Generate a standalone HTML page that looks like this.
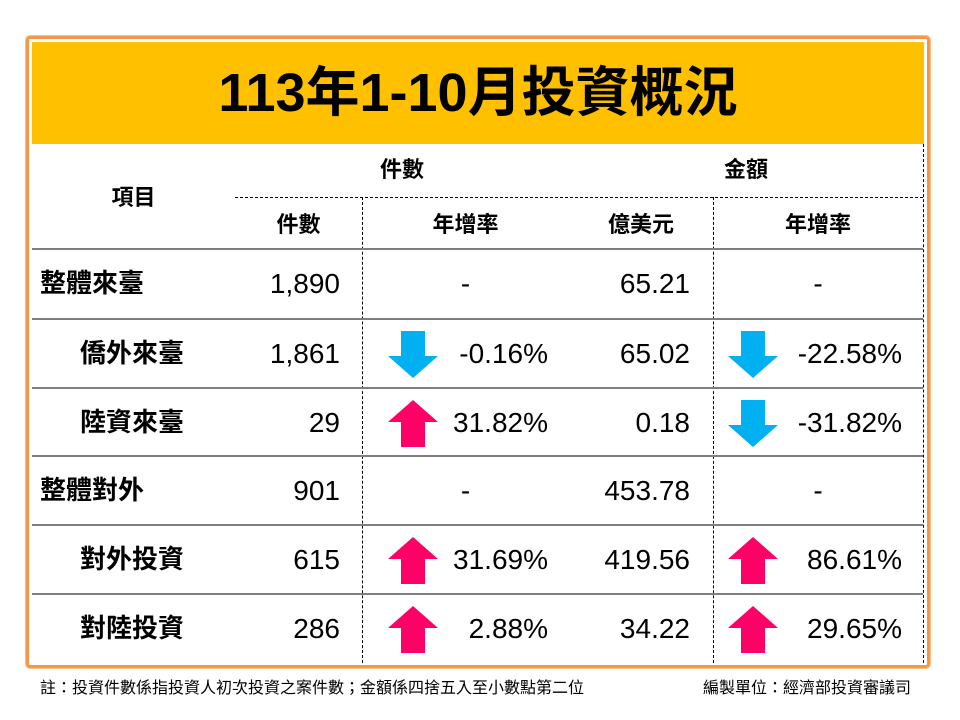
<!DOCTYPE html>
<html><head><meta charset="utf-8">
<style>
body{margin:0;width:960px;height:720px;background:#fff;position:relative;overflow:hidden;font-family:"Liberation Sans","Noto Sans CJK TC",sans-serif;color:#000}
.abs{position:absolute}
#frame{left:26px;top:36px;width:898px;height:626px;border:3px solid #f79646;border-radius:4px;box-shadow:0 0 0 1px #fbbf8a}
#header{left:32px;top:42px;width:892px;height:102px;background:#ffc000}
#title{left:32px;top:42px;width:892px;height:102px;line-height:102px;text-align:center;font-size:54px;font-weight:bold}
.hl{height:0;border-top:2px solid #7f7f7f}
.dv{width:0;border-left:1px dashed #000}
.hd{border-top:1px dashed #000;height:0}
.t{font-size:28px;white-space:nowrap;line-height:32px}
.lab{font-family:"Noto Sans CJK TC","Liberation Sans",sans-serif;font-size:26px;font-weight:bold;line-height:32px;white-space:nowrap}
.h{font-size:22px;white-space:nowrap;font-weight:bold;font-family:"Noto Sans CJK TC","Liberation Sans",sans-serif;line-height:30px}
.r{text-align:right}
.c{text-align:center}
.foot{font-size:16px;white-space:nowrap;font-family:"Noto Sans CJK TC","Liberation Sans",sans-serif;line-height:20px}
</style></head><body>
<div id="frame" class="abs"></div>
<div id="header" class="abs"></div>
<div id="title" class="abs">113年1-10月投資概況</div>

<div class="abs dv" style="left:923px;top:144px;height:519px"></div>
<div class="abs dv" style="left:362px;top:197px;height:466px"></div>
<div class="abs dv" style="left:713px;top:197px;height:466px"></div>
<div class="abs hd" style="left:235px;top:197px;width:688px"></div>

<div class="abs h c" style="left:32px;top:181px;width:203px">項目</div>
<div class="abs h c" style="left:235px;top:153px;width:334px">件數</div>
<div class="abs h c" style="left:569px;top:153px;width:354px">金額</div>
<div class="abs h c" style="left:235px;top:208px;width:127px">件數</div>
<div class="abs h c" style="left:362px;top:208px;width:207px">年增率</div>
<div class="abs h c" style="left:569px;top:208px;width:144px">億美元</div>
<div class="abs h c" style="left:713px;top:208px;width:210px">年增率</div>

<div id="rows"></div>

<div class="abs foot" style="left:40px;top:676px">註：投資件數係指投資人初次投資之案件數；金額係四捨五入至小數點第二位</div>
<div class="abs foot" style="left:703px;top:676px">編製單位：經濟部投資審議司</div>

<script>
const labels=["整體來臺","僑外來臺","陸資來臺","整體對外","對外投資","對陸投資"];
const indents=[0,1,1,0,1,1];
const counts=["1,890","1,861","29","901","615","286"];
const countGrowth=["-","-0.16%","31.82%","-","31.69%","2.88%"];
const amounts=["65.21","65.02","0.18","453.78","419.56","34.22"];
const amountGrowth=["-","-22.58%","-31.82%","-","86.61%","29.65%"];
const rowTops=[249,319,388,456,525,594];
const rowH=69;
const root=document.getElementById('rows');
function add(html){const d=document.createElement('div');d.innerHTML=html;const e=d.firstChild;root.appendChild(e);return e;}
function arrow(x,yc,up){
  const col=up?'#ff0066':'#00b0f0';
  const pts=up?"25,0 50,22 37,22 37,47 13,47 13,22 0,22":"13,0 37,0 37,25 50,25 25,47 0,25 13,25";
  const e=add('<svg class="abs" width="50" height="47" style="left:'+x+'px;top:'+(yc-23)+'px"><polygon points="'+pts+'" fill="'+col+'"/></svg>');
  
  
}
labels.forEach((lab,i)=>{
  const top=rowTops[i];
  const yc=top+rowH/2;
  const ln=add('<div class="abs hl" style="left:32px;top:'+(top-1)+'px;width:891px"></div>');
  
  
  const ty=yc-16;
  const l=add('<div class="abs lab" style="left:'+(indents[i]?80:40)+'px;top:'+(ty-2)+'px">'+lab+'</div>');
  
  
  const c=add('<div class="abs t r" style="left:235px;width:105px;top:'+ty+'px">'+counts[i]+'</div>');
  
  
  const g=countGrowth[i];
  if(g==='-'){
    const e=add('<div class="abs t c" style="left:362px;width:207px;top:'+ty+'px">-</div>');
    
    
  }else{
    arrow(388,yc,parseFloat(g)>=0);
    const e=add('<div class="abs t r" style="left:440px;width:108px;top:'+ty+'px">'+g+'</div>');
    
    
  }
  const a=add('<div class="abs t r" style="left:569px;width:121px;top:'+ty+'px">'+amounts[i]+'</div>');
  
  
  const g2=amountGrowth[i];
  if(g2==='-'){
    const e=add('<div class="abs t c" style="left:713px;width:210px;top:'+ty+'px">-</div>');
    
    
  }else{
    arrow(728,yc,parseFloat(g2)>=0);
    const e=add('<div class="abs t r" style="left:780px;width:122px;top:'+ty+'px">'+g2+'</div>');
    
    
  }
});
</script>
</body></html>
